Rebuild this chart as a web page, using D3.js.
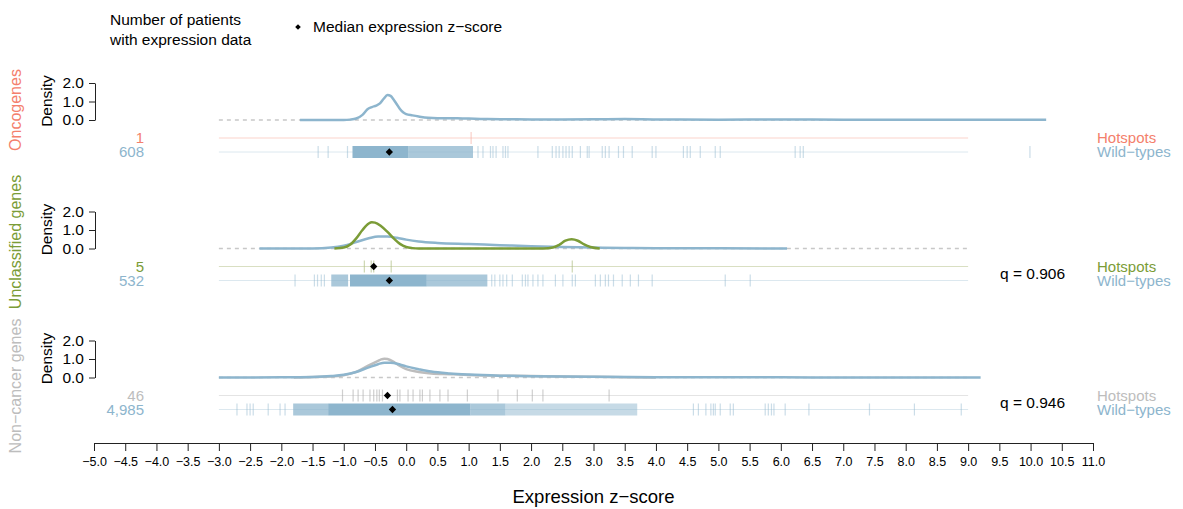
<!DOCTYPE html>
<html>
<head>
<meta charset="utf-8">
<script src="https://cdn.jsdelivr.net/npm/d3@7"></script>
<style>
  body { margin: 0; background: #fff; }
  text { font-family: "Liberation Sans", Arial, sans-serif; }
</style>
</head>
<body>
<div id="chart"></div>
<script>
// ---- data ----
var xTickValues = [-5, -4.5, -4, -3.5, -3, -2.5, -2, -1.5, -1, -0.5, 0, 0.5, 1, 1.5, 2, 2.5, 3, 3.5,
  4, 4.5, 5, 5.5, 6, 6.5, 7, 7.5, 8, 8.5, 9, 9.5, 10, 10.5, 11];
var densityTicks = [0, 1, 2];

var groupNames = ["Oncogenes", "Unclassified genes", "Non\u2212cancer genes"];
var hotspotCounts = ["1", "5", "46"];
var wildCounts = ["608", "532", "4,985"];
var qValues = [null, "0.906", "0.946"];
var hotMedians = [null, -0.52, -0.30];
var wildMedians = [-0.27, -0.27, -0.22];

// density curves: [z-score, density]
var oncoWildDensity = [[-1.70, 0], [-1.00, 0], [-0.90, 0.02], [-0.80, 0.08], [-0.70, 0.28], [-0.62, 0.58],
  [-0.55, 0.70], [-0.48, 0.78], [-0.42, 0.90], [-0.36, 1.15], [-0.30, 1.35], [-0.25, 1.30], [-0.20, 1.10],
  [-0.15, 0.85], [-0.10, 0.60], [-0.05, 0.42], [0.00, 0.32], [0.10, 0.25], [0.20, 0.19], [0.35, 0.12],
  [0.50, 0.10], [0.70, 0.10], [0.90, 0.08], [1.10, 0.07], [1.30, 0.05], [1.60, 0.04], [2.00, 0.03],
  [2.50, 0.03], [3.00, 0.04], [3.50, 0.05], [4.00, 0.03], [5.00, 0.02], [6.00, 0.03], [7.00, 0.02],
  [8.00, 0.02], [9.00, 0.02], [10.25, 0.01]];
var oncoHotDensity = [];

var unclWildDensity = [[-2.35, 0], [-1.50, 0], [-1.20, 0.05], [-1.00, 0.15], [-0.80, 0.35], [-0.60, 0.55],
  [-0.45, 0.65], [-0.30, 0.65], [-0.15, 0.58], [0.00, 0.48], [0.20, 0.38], [0.50, 0.30], [1.00, 0.24],
  [1.50, 0.18], [2.00, 0.12], [2.50, 0.08], [3.00, 0.05], [3.50, 0.03], [4.00, 0.02], [5.00, 0.01], [6.10, 0]];
var unclHotDensity = [[-1.15, 0], [-1.00, 0.05], [-0.90, 0.20], [-0.80, 0.55], [-0.70, 1.00], [-0.60, 1.35],
  [-0.55, 1.42], [-0.50, 1.40], [-0.40, 1.20], [-0.30, 0.90], [-0.20, 0.55], [-0.10, 0.25], [0.00, 0.08],
  [0.10, 0.02], [0.20, 0], [2.20, 0], [2.35, 0.05], [2.45, 0.20], [2.55, 0.42], [2.65, 0.50], [2.75, 0.42],
  [2.85, 0.22], [2.95, 0.08], [3.10, 0]];

var nonWildDensity = [[-3.00, 0], [-2.00, 0.01], [-1.50, 0.03], [-1.20, 0.08], [-1.00, 0.15], [-0.80, 0.30],
  [-0.60, 0.55], [-0.45, 0.72], [-0.35, 0.80], [-0.25, 0.80], [-0.10, 0.70], [0.00, 0.60], [0.20, 0.45],
  [0.40, 0.32], [0.70, 0.22], [1.00, 0.16], [1.50, 0.10], [2.00, 0.07], [2.50, 0.05], [3.00, 0.04],
  [4.00, 0.02], [5.00, 0.01], [6.00, 0.01], [7.00, 0], [9.20, 0]];
var nonHotDensity = [[-1.80, 0], [-1.20, 0.05], [-1.00, 0.12], [-0.80, 0.30], [-0.60, 0.65], [-0.45, 0.90],
  [-0.40, 0.98], [-0.35, 1.02], [-0.30, 1.00], [-0.20, 0.85], [-0.10, 0.62], [0.00, 0.45], [0.20, 0.30],
  [0.40, 0.22], [0.70, 0.18], [1.00, 0.14], [1.50, 0.10], [2.00, 0.08], [2.50, 0.05], [3.00, 0.04],
  [3.50, 0.02], [4.00, 0]];

// rug ticks (single patients) and crowded stretches [from, to]
var oncoHotTicks = [1.04];
var oncoWildTicks = [-1.41, -1.25, -0.94, 1.15, 1.23, 1.35, 1.39, 1.44, 1.55, 1.59, 1.63, 2.11, 2.34, 2.40,
  2.45, 2.51, 2.56, 2.61, 2.66, 2.79, 2.90, 2.93, 3.14, 3.19, 3.25, 3.40, 3.48, 3.62, 3.94, 4.00, 4.44,
  4.50, 4.55, 4.71, 4.95, 5.03, 6.23, 6.31, 6.36, 9.99];
var oncoWildDense = [[-0.86, 0.03]];
var oncoWildMid = [[0.03, 1.07]];
var oncoWildLight = [];

var unclHotTicks = [-0.67, -0.56, -0.52, -0.24, 2.66];
var unclWildTicks = [-1.78, -1.47, -1.42, -1.36, -1.31, 1.37, 1.42, 1.50, 1.55, 1.61, 1.70, 1.86, 1.91,
  1.95, 2.03, 2.11, 2.19, 2.39, 2.51, 2.66, 2.71, 3.03, 3.11, 3.19, 3.24, 3.32, 3.46, 3.59, 3.72, 3.94,
  5.11, 5.51];
var unclWildDense = [[-0.90, 0.33]];
var unclWildMid = [[-1.20, -0.93], [0.33, 1.30]];
var unclWildLight = [];

var nonHotTicks = [-1.02, -0.85, -0.77, -0.69, -0.58, -0.52, -0.47, -0.43, -0.38, -0.14, -0.10, 0.03, 0.11,
  0.22, 0.26, 0.38, 0.54, 0.67, 0.98, 1.47, 1.78, 2.02, 2.19, 3.25];
var nonWildTicks = [-2.71, -2.55, -2.50, -2.45, -2.21, -2.02, -1.94, 4.60, 4.68, 4.80, 4.88, 4.92, 4.95,
  5.03, 5.19, 5.24, 5.75, 5.80, 5.85, 5.89, 6.07, 6.45, 7.42, 8.14, 8.89];
var nonWildDense = [[-1.25, 1.03]];
var nonWildMid = [[-1.81, -1.25], [1.03, 1.59]];
var nonWildLight = [[1.59, 3.70]];

// ---- layout ----
var svgWidth = 1183;
var svgHeight = 509;
var blue = "#8db5cd";
var groupColors = ["#f4806c", "#7b9c37", "#bdbdbd"];
var hotTickColors = ["#f7b2a6", "#aebd82", "#b0b0b0"];
var hotLineColors = ["#fbd3cb", "#d9dfc2", "#e4e4e4"];
var panelBase = [120, 248.5, 377.5];   // y of density 0 in each panel
var groupLabelY = [110, 242, 386];

var panels = groupNames.map(function(name, i) {
  return {
    name: name,
    hotCount: hotspotCounts[i],
    wildCount: wildCounts[i],
    q: qValues[i],
    hotMedian: hotMedians[i],
    wildMedian: wildMedians[i],
    wildDensity: [oncoWildDensity, unclWildDensity, nonWildDensity][i],
    hotDensity: [oncoHotDensity, unclHotDensity, nonHotDensity][i],
    hotTicks: [oncoHotTicks, unclHotTicks, nonHotTicks][i],
    wildTicks: [oncoWildTicks, unclWildTicks, nonWildTicks][i],
    wildDense: [oncoWildDense, unclWildDense, nonWildDense][i],
    wildMid: [oncoWildMid, unclWildMid, nonWildMid][i],
    wildLight: [oncoWildLight, unclWildLight, nonWildLight][i]
  };
});

var svg = d3.select("#chart")
  .append("svg")
  .attr("width", svgWidth)
  .attr("height", svgHeight);

var x = d3.scaleLinear().domain([-5, 11]).range([94, 1093]);
var fmt = d3.format(".1f");
var diamond = d3.symbol().type(d3.symbolDiamond2);

// legend at the top
svg.append("text").attr("x", 110).attr("y", 25).attr("font-size", "15.5px").text("Number of patients");
svg.append("text").attr("x", 110).attr("y", 45).attr("font-size", "15.5px").text("with expression data");
svg.append("path")
  .attr("d", diamond.size(20)())
  .attr("transform", "translate(298, 27)")
  .attr("fill", "black");
svg.append("text").attr("x", 313).attr("y", 32).attr("font-size", "15.5px").text("Median expression z\u2212score");

panels.forEach(function(p, i) {
  var base = panelBase[i];
  var hotY = base + 18;
  var wildY = base + 32;
  var y = d3.scaleLinear().domain([0, 2]).range([base, base - 37]);
  var g = svg.append("g");

  // group name on the far left
  g.append("text")
    .attr("transform", "translate(21, " + groupLabelY[i] + ") rotate(-90)")
    .attr("text-anchor", "middle")
    .attr("font-size", "16px")
    .attr("fill", groupColors[i])
    .text(p.name);

  // density axis
  var yAxis = g.append("g")
    .attr("transform", "translate(95, 0)")
    .call(d3.axisLeft(y).tickValues(densityTicks).tickFormat(fmt).tickSize(6).tickSizeOuter(0).tickPadding(5));
  yAxis.selectAll("text").attr("font-size", "15.5px").attr("font-family", "Liberation Sans, Arial, sans-serif");
  yAxis.selectAll("line, path").attr("stroke", "#222");

  g.append("text")
    .attr("transform", "translate(52, " + (base - 19) + ") rotate(-90)")
    .attr("text-anchor", "middle")
    .attr("font-size", "15.5px")
    .text("Density");

  // dashed zero line
  g.append("line")
    .attr("x1", x(-3)).attr("x2", x(9))
    .attr("y1", base).attr("y2", base)
    .attr("stroke", "#c8c8c8")
    .attr("stroke-width", 1.5)
    .attr("stroke-dasharray", "4,4");

  var line = d3.line()
    .x(function(d) { return x(d[0]); })
    .y(function(d) { return y(d[1]); })
    .curve(d3.curveMonotoneX);

  // wild-type curve, then hotspot curve on top (non-cancer: hotspot under)
  var curves = i === 2
    ? [[p.hotDensity, groupColors[i]], [p.wildDensity, blue]]
    : [[p.wildDensity, blue], [p.hotDensity, groupColors[i]]];
  curves.forEach(function(c) {
    if (!c[0].length) return;
    g.append("path")
      .datum(c[0])
      .attr("d", line)
      .attr("fill", "none")
      .attr("stroke", c[1])
      .attr("stroke-width", 2.5)
      .attr("stroke-linejoin", "round");
  });

  // rug rows
  g.append("line")
    .attr("x1", x(-3)).attr("x2", x(9))
    .attr("y1", hotY).attr("y2", hotY)
    .attr("stroke", hotLineColors[i]).attr("stroke-width", 1);
  g.append("line")
    .attr("x1", x(-3)).attr("x2", x(9))
    .attr("y1", wildY).attr("y2", wildY)
    .attr("stroke", "#dce8ef").attr("stroke-width", 1);

  var bandLevels = [[p.wildLight, 0.5], [p.wildMid, 0.75], [p.wildDense, 1]];
  bandLevels.forEach(function(b) {
    g.selectAll(null)
      .data(b[0]).enter()
      .append("rect")
      .attr("x", function(d) { return x(d[0]); })
      .attr("width", function(d) { return x(d[1]) - x(d[0]); })
      .attr("y", wildY - 6)
      .attr("height", 12)
      .attr("fill", blue)
      .attr("opacity", b[1]);
  });

  g.selectAll(null)
    .data(p.wildTicks).enter()
    .append("line")
    .attr("x1", function(d) { return x(d); })
    .attr("x2", function(d) { return x(d); })
    .attr("y1", wildY - 6).attr("y2", wildY + 6)
    .attr("stroke", blue)
    .attr("stroke-width", 1.2)
    .attr("opacity", 0.45);

  g.selectAll(null)
    .data(p.hotTicks).enter()
    .append("line")
    .attr("x1", function(d) { return x(d); })
    .attr("x2", function(d) { return x(d); })
    .attr("y1", hotY - 6).attr("y2", hotY + 6)
    .attr("stroke", hotTickColors[i])
    .attr("stroke-width", 1.2)
    .attr("opacity", 0.6);

  // medians
  if (p.hotMedian !== null) {
    g.append("path")
      .attr("d", diamond.size(34)())
      .attr("transform", "translate(" + x(p.hotMedian) + "," + hotY + ")")
      .attr("fill", "black");
  }
  g.append("path")
    .attr("d", diamond.size(34)())
    .attr("transform", "translate(" + x(p.wildMedian) + "," + wildY + ")")
    .attr("fill", "black");

  // counts
  g.append("text")
    .attr("x", 144).attr("y", hotY).attr("dy", "0.36em")
    .attr("text-anchor", "end")
    .attr("font-size", "15px")
    .attr("fill", groupColors[i])
    .text(p.hotCount);
  g.append("text")
    .attr("x", 144).attr("y", wildY).attr("dy", "0.36em")
    .attr("text-anchor", "end")
    .attr("font-size", "15px")
    .attr("fill", blue)
    .text(p.wildCount);

  // right side labels
  g.append("text")
    .attr("x", 1097).attr("y", hotY).attr("dy", "0.36em")
    .attr("font-size", "15px")
    .attr("fill", groupColors[i])
    .text("Hotspots");
  g.append("text")
    .attr("x", 1097).attr("y", wildY).attr("dy", "0.36em")
    .attr("font-size", "15px")
    .attr("fill", blue)
    .text("Wild\u2212types");

  if (p.q !== null) {
    g.append("text")
      .attr("x", 1000).attr("y", base + 25).attr("dy", "0.36em")
      .attr("font-size", "15.5px")
      .text("q = " + p.q);
  }
});

// x axis
var xAxis = svg.append("g")
  .attr("transform", "translate(0, 443)")
  .call(d3.axisBottom(x).tickValues(xTickValues).tickFormat(fmt).tickSize(8).tickSizeOuter(0).tickPadding(6));
xAxis.selectAll("text").attr("font-size", "12.5px").attr("font-family", "Liberation Sans, Arial, sans-serif");
xAxis.selectAll("line, path").attr("stroke", "#222");

svg.append("text")
  .attr("x", x(3))
  .attr("y", 503)
  .attr("text-anchor", "middle")
  .attr("font-size", "18.5px")
  .text("Expression z\u2212score");
</script>
</body>
</html>
